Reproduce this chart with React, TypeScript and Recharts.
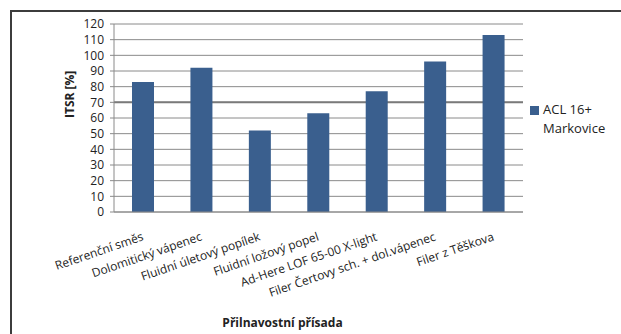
import { BarChart, Bar, XAxis, YAxis, CartesianGrid, Legend } from 'recharts'

const categories = [
  'Referenční směs',
  'Dolomitický vápenec',
  'Fluidní úletový popílek',
  'Fluidní ložový popel',
  'Ad-Here LOF 65-00 X-light',
  'Filer Čertovy sch. + dol.vápenec',
  'Filer z Těškova',
]
const itsr = [83, 92, 52, 63, 77, 96, 113]
const yTicks = [0, 10, 20, 30, 40, 50, 60, 70, 80, 90, 100, 110, 120]
const markLine = [70]
const seriesName = 'ACL 16+ Markovice'

const data = categories.map((name, i) => ({ name, itsr: itsr[i] }))

const FONT = '"Open Sans", sans-serif'
const BLUE = '#3a5f8e'

function XTick({ x, y, payload }: any) {
  return (
    <text
      x={x + 1}
      y={y + 28}
      textAnchor="end"
      transform={`rotate(-19, ${x + 1}, ${y + 28})`}
      fontFamily={FONT}
      fontSize={12}
      fill="#222"
    >
      {payload.value}
    </text>
  )
}

function LegendBox() {
  return (
    <div style={{ display: 'flex', fontFamily: FONT, fontSize: 13, color: '#222', lineHeight: '19px' }}>
      <div style={{ width: 9, height: 9, background: BLUE, marginTop: 6, marginRight: 4 }} />
      <div>
        ACL 16+
        <br />
        Markovice
      </div>
    </div>
  )
}

export default function App() {
  return (
    <div style={{ position: 'fixed', left: 0, top: 0, width: 621, height: 334, overflow: 'hidden', background: '#fff' }}>
      <div
        style={{
          position: 'absolute',
          left: 10,
          top: 10,
          width: 640,
          height: 360,
          border: '2px solid #3c3c3c',
        }}
      />
      <div style={{ position: 'absolute', left: 0, top: 0 }}>
        <BarChart width={621} height={334} data={data} margin={{ top: 24, right: 98, left: 56, bottom: 2 }}>
          <CartesianGrid vertical={false} stroke="#8a8a8a" />
          <CartesianGrid vertical={false} horizontalValues={markLine} stroke="#7a7a7a" strokeWidth={2} />
          <XAxis
            dataKey="name"
            interval={0}
            height={120}
            tickLine={false}
            tickSize={0}
            tickMargin={0}
            stroke="#8a8a8a"
            tick={<XTick />}
            label={{
              value: 'Přilnavostní přísada',
              position: 'insideBottom',
              offset: 5,
              dx: -36,
              fontFamily: FONT,
              fontSize: 12,
              fontWeight: 'bold',
              fill: '#222',
            }}
          />
          <YAxis
            width={58}
            domain={[0, 120]}
            ticks={yTicks}
            interval={0}
            tickSize={4}
            tickMargin={6}
            stroke="#8a8a8a"
            tick={{ fontFamily: FONT, fontSize: 12, fill: '#222' }}
            label={{
              value: 'ITSR [%]',
              angle: -90,
              position: 'insideLeft',
              offset: 14,
              fontFamily: FONT,
              fontSize: 12,
              fontWeight: 'bold',
              fill: '#222',
            }}
          />
          <Bar dataKey="itsr" name={seriesName} fill={BLUE} barSize={22} isAnimationActive={false} />
          <Legend
            layout="horizontal"
            verticalAlign="middle"
            align="center"
            content={<LegendBox />}
            wrapperStyle={{ position: 'absolute', left: 530, top: 100, width: 90 }}
          />
        </BarChart>
      </div>
    </div>
  )
}
